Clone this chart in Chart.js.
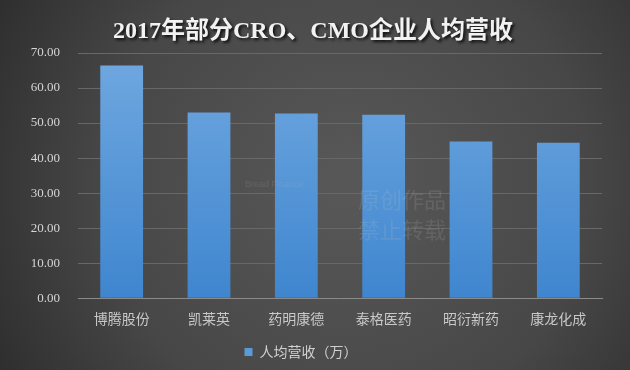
<!DOCTYPE html>
<html>
<head>
<meta charset="utf-8">
<script src="https://cdn.jsdelivr.net/npm/chart.js@4.4.0/dist/chart.umd.min.js"></script>
<style>
  html, body { margin: 0; padding: 0; background: #3c3c3c; }
  #wrap { width: 630px; height: 370px; }
</style>
</head>
<body>
<div id="wrap"><canvas id="chart" width="630" height="370"></canvas></div>
<script>
const titleText = "2017年部分CRO、CMO企业人均营收";
const companies = ["博腾股份", "凯莱英", "药明康德", "泰格医药", "昭衍新药", "康龙化成"];
const revenuePerHead = [66.4, 53.0, 52.7, 52.4, 44.7, 44.4];
const seriesName = "人均营收（万）";
const yMax = 70;
const yStep = 10;

const serif = "'Liberation Serif', 'DejaVu Serif', 'Noto Sans CJK SC', serif";

// dark radial background + faint watermark
const backdrop = {
    id: "backdrop",
    beforeDraw(chart) {
        let ctx = chart.ctx;
        let w = chart.width, h = chart.height;
        ctx.save();
        let g = ctx.createRadialGradient(w * 0.55, h * 0.5, 20, w * 0.55, h * 0.5, w * 0.62);
        g.addColorStop(0, "#575757");
        g.addColorStop(0.6, "#474747");
        g.addColorStop(1, "#2f2f2f");
        ctx.fillStyle = g;
        ctx.fillRect(0, 0, w, h);
        ctx.restore();
    },
    afterDatasetsDraw(chart) {
        let ctx = chart.ctx;
        ctx.save();
        ctx.fillStyle = "rgba(200,200,200,0.15)";
        ctx.font = "22px 'Noto Sans CJK SC'";
        ctx.textBaseline = "middle";
        ctx.fillText("原创作品", 358, 200);
        ctx.fillText("禁止转载", 358, 230);
        ctx.font = "9px 'Liberation Sans'";
        ctx.fillText("Bread Finance", 245, 185);
        ctx.restore();
    },
    afterDraw(chart) {
        let ctx = chart.ctx;
        ctx.save();
        ctx.font = "bold 24px " + serif;
        ctx.textAlign = "center";
        ctx.textBaseline = "middle";
        ctx.shadowColor = "rgba(0,0,0,0.8)";
        ctx.shadowOffsetX = 2;
        ctx.shadowOffsetY = 2;
        ctx.shadowBlur = 3;
        ctx.fillStyle = "#f2f2f2";
        ctx.fillText(titleText, 313, 32);
        ctx.restore();
    }
};

function barGradient(context) {
    let chart = context.chart;
    let area = chart.chartArea;
    if (!area) return "#5b9bd5";
    let g = chart.ctx.createLinearGradient(0, area.top, 0, area.bottom);
    g.addColorStop(0, "#70a8e0");
    g.addColorStop(1, "#3f86cf");
    return g;
}

new Chart(document.getElementById("chart"), {
    type: "bar",
    data: {
        labels: companies,
        datasets: [{
            label: seriesName,
            data: revenuePerHead,
            backgroundColor: barGradient,
            borderWidth: 0,
            categoryPercentage: 1,
            barPercentage: 0.49
        }]
    },
    plugins: [backdrop],
    options: {
        responsive: false,
        animation: false,
        layout: { padding: { top: 53, right: 28, left: 0, bottom: 1 } },
        plugins: {
            title: { display: false },
            tooltip: { enabled: false },
            legend: {
                position: "bottom",
                labels: {
                    color: "#d0d0d0",
                    font: { size: 14, family: "'Noto Sans CJK SC'" },
                    boxWidth: 8,
                    boxHeight: 8,
                    padding: 6,
                    generateLabels: (chart) => [{
                        text: seriesName,
                        fillStyle: "#5b9bd5",
                        strokeStyle: "#5b9bd5",
                        lineWidth: 0,
                        fontColor: "#d0d0d0"
                    }]
                }
            }
        },
        scales: {
            x: {
                grid: { display: false, drawTicks: false },
                border: { color: "#8a8a8a", width: 1 },
                ticks: {
                    color: "#c8c8c8",
                    padding: 12,
                    font: { size: 14, family: "'Noto Sans CJK SC'" }
                }
            },
            y: {
                min: 0,
                max: yMax,
                afterFit: (s) => { s.width = 78; },
                grid: { color: "#686868", lineWidth: 1, drawTicks: false },
                border: { display: false },
                ticks: {
                    stepSize: yStep,
                    color: "#d6d6d6",
                    padding: 18,
                    font: { size: 13, family: serif },
                    callback: (v) => v.toFixed(2)
                }
            }
        }
    }
});
</script>
</body>
</html>
